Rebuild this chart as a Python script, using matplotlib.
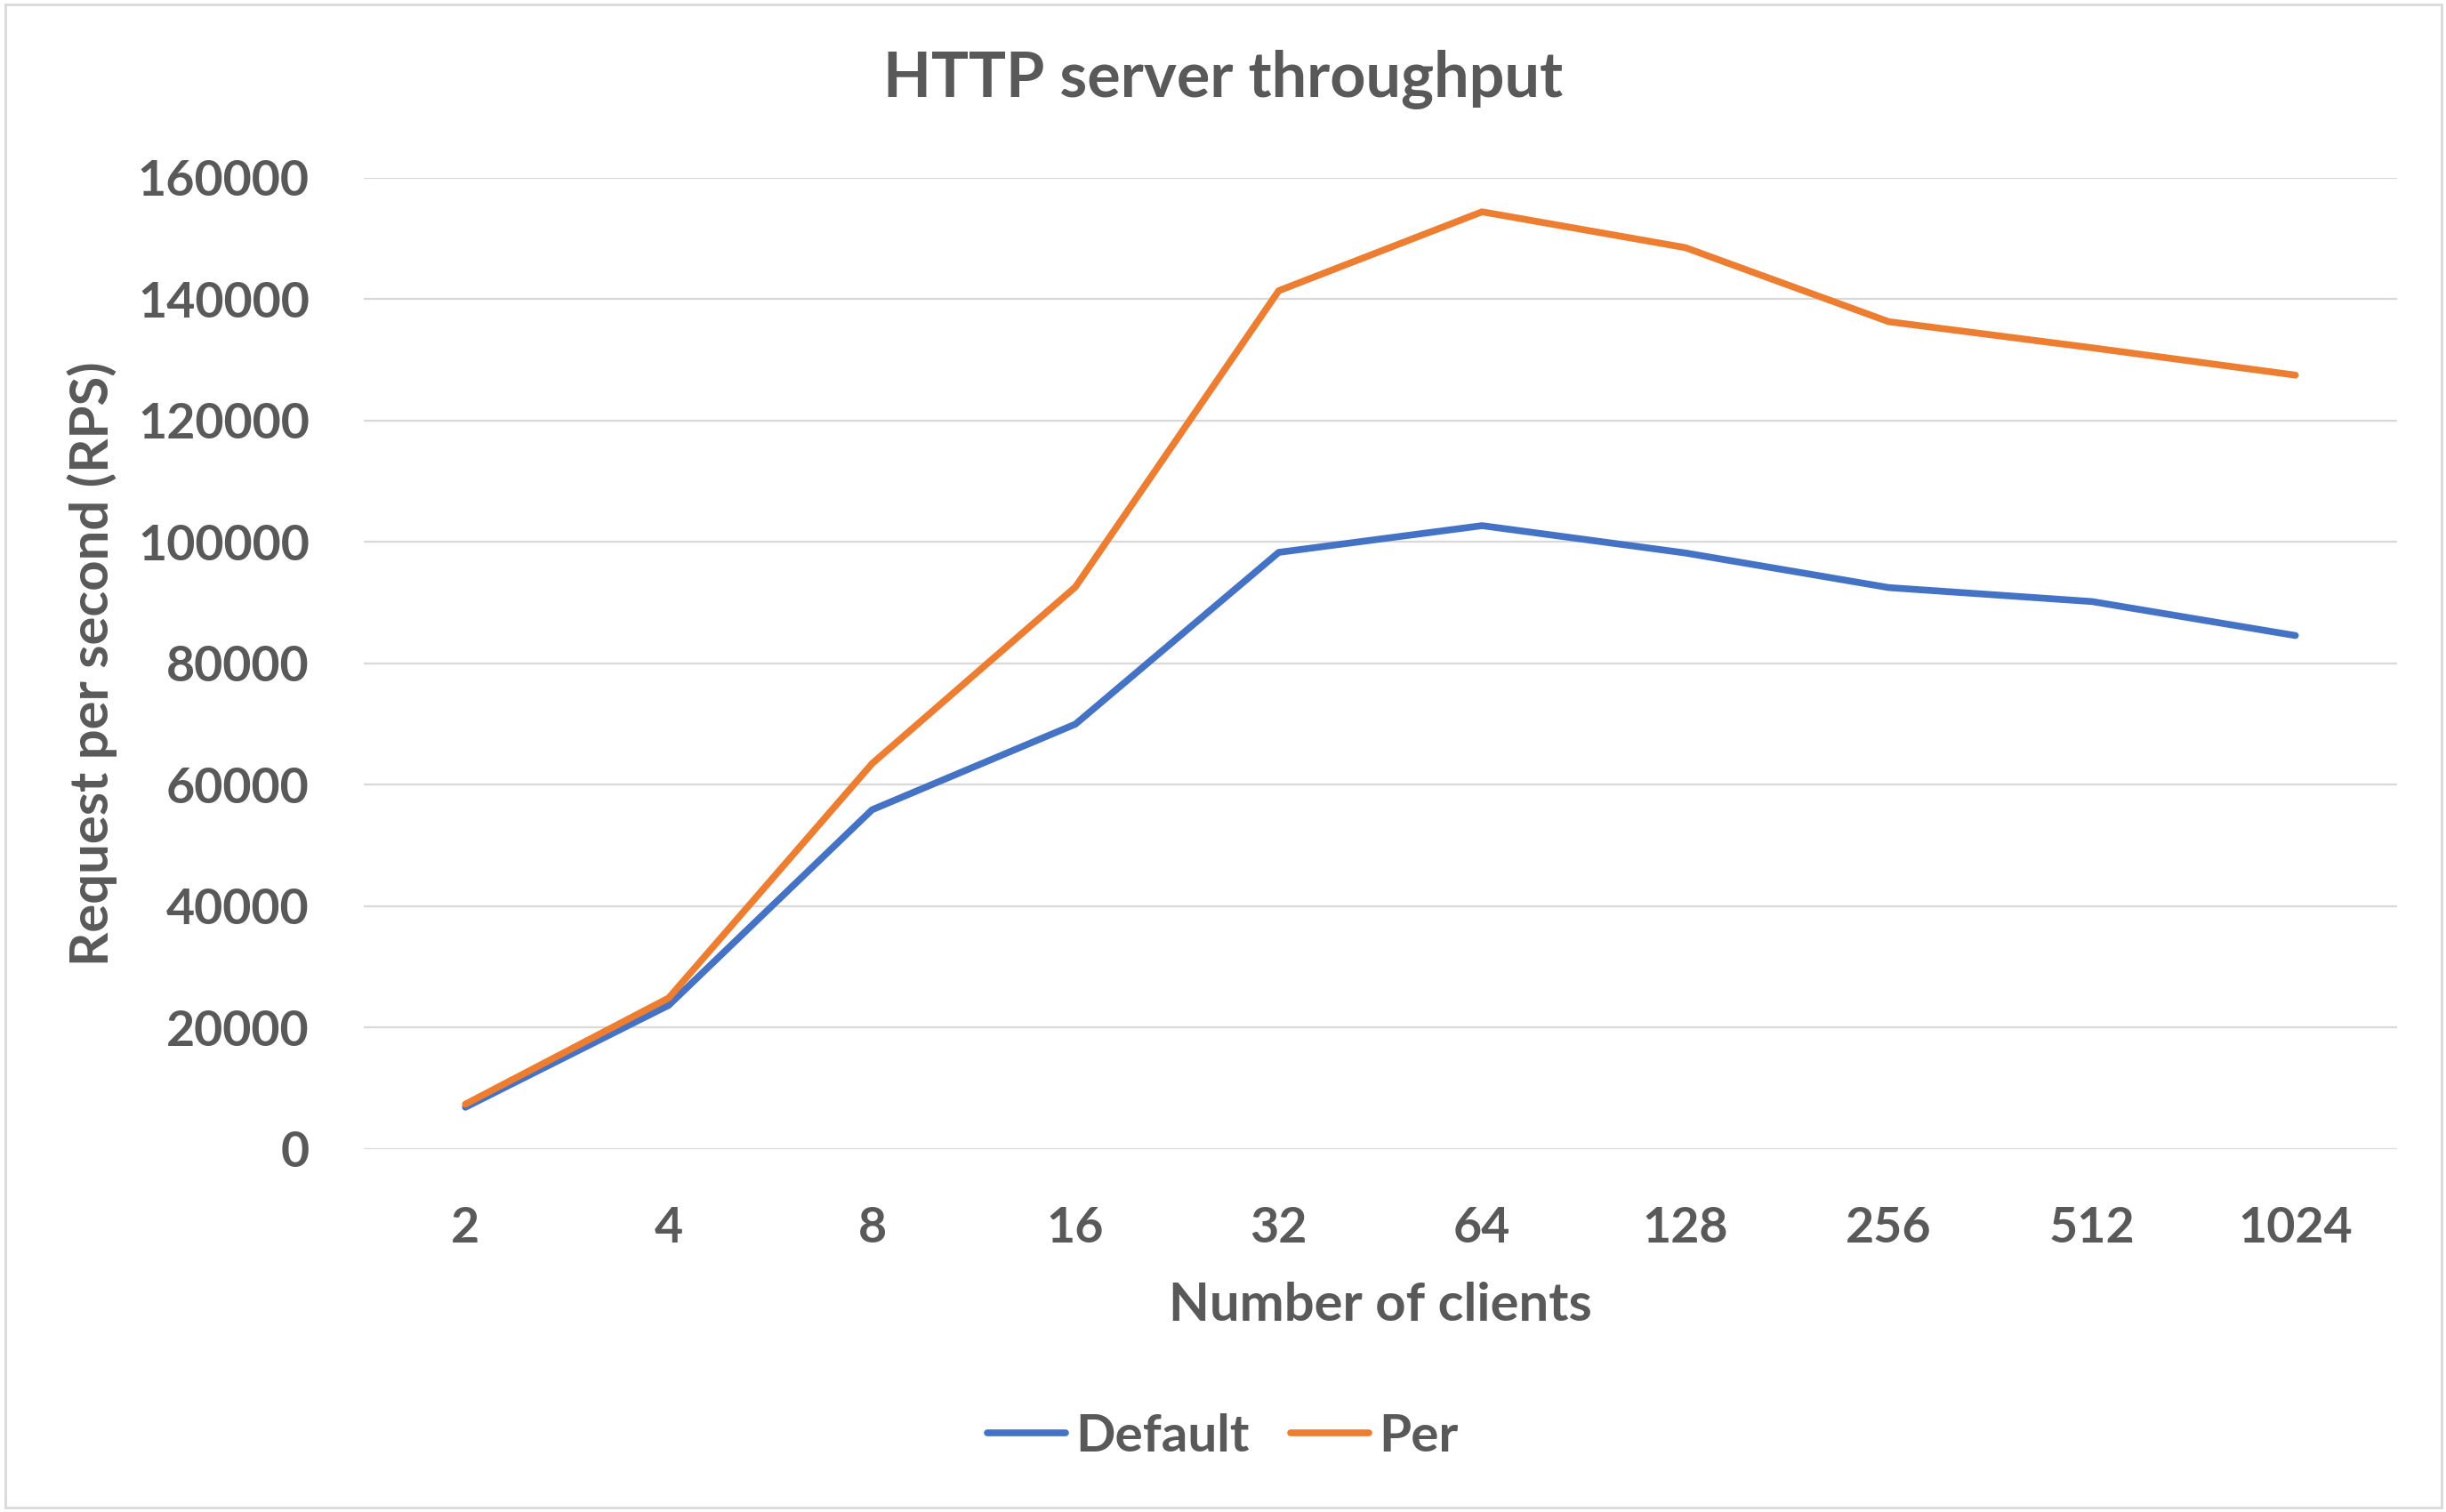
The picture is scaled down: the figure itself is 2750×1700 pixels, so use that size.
"""
HTTP server throughput: Default vs Per, requests per second by client count.
"""

import matplotlib
matplotlib.use("Agg")
import matplotlib.pyplot as plt
from matplotlib.patches import Rectangle

# ------------------------------------------------------------
# Data
# ------------------------------------------------------------
clients = ["2", "4", "8", "16", "32", "64", "128", "256", "512", "1024"]
rps_default = [6900, 23700, 55900, 70000, 98300, 102700, 98200, 92500, 90200, 84600]
rps_per = [7400, 24900, 63500, 92600, 141400, 154400, 148500, 136300, 132000, 127500]
y_ticks = [0, 20000, 40000, 60000, 80000, 100000, 120000, 140000, 160000]

# ------------------------------------------------------------
# Style
# ------------------------------------------------------------
TEXT = "#595959"
GRID = "#D9D9D9"
BLUE = "#4472C4"
ORANGE = "#ED7D31"

plt.rcParams["font.family"] = ["Lato", "DejaVu Sans"]
plt.rcParams["font.weight"] = "bold"
plt.rcParams["axes.labelweight"] = "bold"

fig = plt.figure(figsize=(27.5, 17), dpi=100)
ax = fig.add_axes([0.1487, 0.24, 0.8313, 0.6424])

x = list(range(len(clients)))
ax.plot(x, rps_default, color=BLUE, linewidth=5.5, label="Default",
        solid_capstyle="round")
ax.plot(x, rps_per, color=ORANGE, linewidth=5.5, label="Per",
        solid_capstyle="round")

ax.set_xlim(-0.5, len(clients) - 0.5)
ax.set_ylim(0, 160000)
ax.set_xticks(x)
ax.set_xticklabels(clients)
ax.set_yticks(y_ticks)
ax.set_yticklabels([str(v) for v in y_ticks])

ax.grid(axis="y", color=GRID, linewidth=1.6)
ax.set_axisbelow(True)
for s in ax.spines.values():
    s.set_visible(False)
ax.tick_params(axis="both", length=0, labelsize=40, labelcolor=TEXT)
ax.tick_params(axis="y", pad=44)
ax.tick_params(axis="x", pad=46)

ax.set_xlabel("Number of clients", fontsize=43, color=TEXT, labelpad=25)
ax.set_ylabel("Request per second (RPS)", fontsize=43, color=TEXT)
ax.yaxis.set_label_coords(-0.121, 0.5)

fig.text(0.5, 0.936, "HTTP server throughput", ha="center", va="baseline",
         fontsize=50.5, color=TEXT, fontweight="bold")

leg = fig.legend(loc="center", bbox_to_anchor=(0.5, 0.05),
                 bbox_transform=fig.transFigure, ncol=2, frameon=False,
                 fontsize=42, handlelength=1.5, handletextpad=0.2,
                 columnspacing=0.8)
for t in leg.get_texts():
    t.set_color(TEXT)

# chart border
fig.patches.append(Rectangle((0.002, 0.003), 0.996, 0.994, transform=fig.transFigure,
                             fill=False, edgecolor=GRID, linewidth=2))

fig.savefig("out.png", dpi=100)
